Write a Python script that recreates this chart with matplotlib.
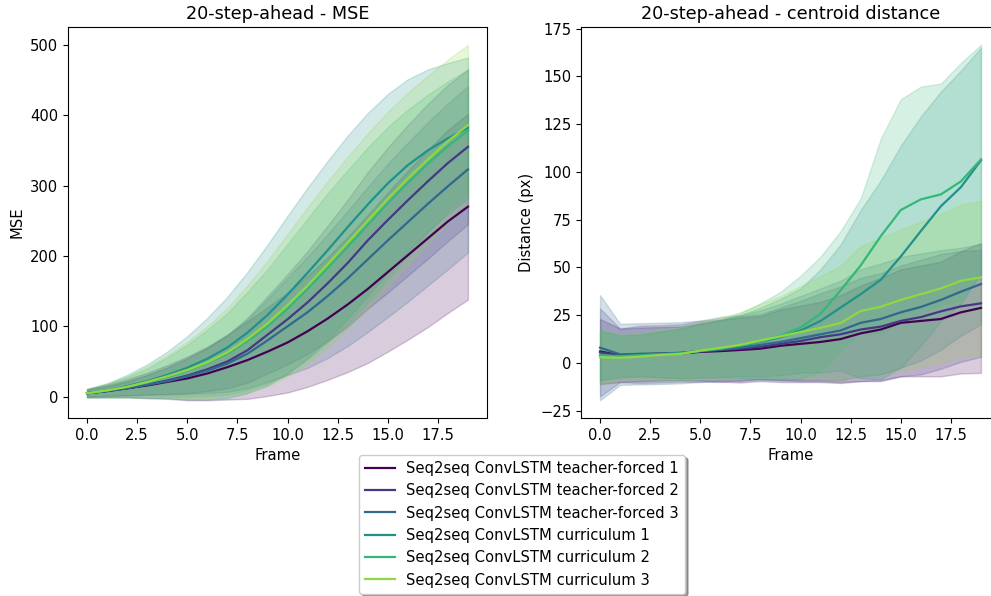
import numpy as np
import matplotlib
matplotlib.use("Agg")
import matplotlib.pyplot as plt

plt.rcParams["font.size"] = 10.6
plt.rcParams["lines.linewidth"] = 1.6

frames = np.arange(20)
labels = ["Seq2seq ConvLSTM teacher-forced 1", "Seq2seq ConvLSTM teacher-forced 2",
          "Seq2seq ConvLSTM teacher-forced 3", "Seq2seq ConvLSTM curriculum 1",
          "Seq2seq ConvLSTM curriculum 2", "Seq2seq ConvLSTM curriculum 3"]

# MSE per frame (mean, std)
mse_tf1 = [5, 8, 12, 16, 21, 26, 33, 42, 52, 64, 77, 93, 111, 131, 153, 177, 201, 225, 249, 270]
mse_tf2 = [5, 8, 12, 17, 23, 30, 39, 50, 66, 88, 110, 134, 161, 190, 222, 251, 279, 306, 332, 355]
mse_tf3 = [5, 8, 12, 17, 22, 29, 37, 47, 61, 80, 100, 120, 143, 168, 195, 222, 248, 274, 299, 323]
mse_c1 = [5, 9, 15, 22, 31, 41, 54, 70, 91, 116, 145, 176, 208, 241, 273, 303, 329, 350, 367, 382]
mse_c2 = [5, 9, 14, 20, 28, 37, 48, 61, 79, 100, 125, 153, 183, 213, 244, 275, 304, 331, 356, 378]
mse_c3 = [5, 9, 14, 21, 29, 38, 49, 63, 82, 104, 130, 158, 188, 219, 250, 281, 310, 337, 363, 386]

mse_std_tf1 = [6, 9, 13, 18, 24, 31, 38, 46, 55, 63, 71, 79, 87, 96, 105, 113, 120, 126, 130, 132]
mse_std_tf2 = [5, 7, 10, 14, 19, 25, 31, 38, 46, 55, 64, 73, 82, 90, 97, 103, 107, 110, 111, 110]
mse_std_tf3 = [5, 7, 10, 14, 19, 25, 32, 40, 49, 59, 69, 79, 88, 96, 103, 109, 113, 116, 118, 118]
mse_std_c1 = [6, 10, 16, 24, 33, 45, 58, 72, 86, 100, 112, 121, 127, 130, 130, 127, 122, 115, 107, 100]
mse_std_c2 = [6, 9, 14, 20, 28, 37, 47, 58, 70, 81, 92, 100, 106, 109, 110, 108, 104, 98, 92, 87]
mse_std_c3 = [6, 10, 15, 22, 30, 40, 51, 63, 76, 89, 101, 111, 118, 122, 124, 124, 122, 119, 116, 114]

# centroid distance per frame (mean, std)
dist_tf1 = [6, 4, 4.5, 4.8, 5, 5.8, 6.2, 6.8, 7.5, 9, 10, 11, 12.5, 15.5, 17.5, 21, 22, 23, 26.5, 28.8]
dist_tf2 = [5.5, 4, 4.5, 4.8, 5.2, 6, 6.8, 7.5, 8.5, 10, 11.5, 13.5, 15, 17.5, 19, 22, 24, 27, 29.6, 31.2]
dist_tf3 = [8, 4.5, 4.8, 5, 5.3, 6.2, 7, 8, 9.5, 11, 13, 15, 17, 21, 23, 26.5, 29.3, 33, 37.3, 41.3]
dist_c1 = [4, 3.5, 4, 4.5, 5, 6.3, 7.5, 9, 11, 13.5, 17, 22, 29, 36, 43.5, 55.7, 69, 82, 92, 106]
dist_c2 = [4, 3.5, 4, 4.5, 5, 6.3, 7.5, 9.2, 11.2, 14.2, 18.6, 25.7, 38, 51, 66.3, 80, 85.6, 88.2, 95, 106.5]
dist_c3 = [3, 2.7, 3.3, 4.2, 4.7, 6.5, 7.9, 9.5, 11.8, 13.9, 16.2, 18.4, 20.9, 27.2, 29.4, 33, 36, 39, 43, 44.8]

dist_std_tf1 = [17, 14, 14, 14, 14, 15, 16, 17, 17, 19, 20, 21, 23, 25, 27, 28, 29, 30, 32, 34]
dist_std_tf2 = [23, 14, 15, 15, 15, 16, 16, 17, 17, 19, 21, 23, 25, 27, 28, 29, 30, 30, 29, 28]
dist_std_tf3 = [27.5, 16, 16, 16, 16, 16, 17, 17, 18, 20, 22, 24, 26, 28, 29, 29, 28, 26, 23, 21]
dist_std_c1 = [13, 11, 11, 12, 13, 14, 15, 16, 18, 20, 22, 27, 33, 44, 52, 58, 60, 60, 61, 59]
dist_std_c2 = [13, 11, 11, 12, 13, 14, 15, 17, 20, 23, 27, 30, 31, 35, 51, 58, 59, 58, 62, 60]
dist_std_c3 = [14, 12, 12, 13, 14, 15, 16, 17, 19, 21, 24, 27, 30, 34, 36, 37, 38, 39, 40, 40]

mse = [mse_tf1, mse_tf2, mse_tf3, mse_c1, mse_c2, mse_c3]
mse_std = [mse_std_tf1, mse_std_tf2, mse_std_tf3, mse_std_c1, mse_std_c2, mse_std_c3]
dist = [dist_tf1, dist_tf2, dist_tf3, dist_c1, dist_c2, dist_c3]
dist_std = [dist_std_tf1, dist_std_tf2, dist_std_tf3, dist_std_c1, dist_std_c2, dist_std_c3]

colors = plt.cm.viridis(np.arange(6) / 6)

fig = plt.figure(figsize=(9.91, 5.96), dpi=100)
ax1 = fig.add_axes([68 / 991, 178 / 596, 419 / 991, 391 / 596])
ax2 = fig.add_axes([581 / 991, 178 / 596, 419 / 991, 391 / 596])

for i in range(6):
    m = np.array(mse[i])
    s = np.array(mse_std[i])
    ax1.plot(frames, m, color=colors[i], label=labels[i])
    ax1.fill_between(frames, m - s, m + s, color=colors[i], alpha=0.2)

    d = np.array(dist[i])
    s = np.array(dist_std[i])
    ax2.plot(frames, d, color=colors[i], label=labels[i])
    ax2.fill_between(frames, d - s, d + s, color=colors[i], alpha=0.2)

ax1.set_title("20-step-ahead - MSE")
ax1.set_xlabel("Frame")
ax1.set_ylabel("MSE")

ax2.set_title("20-step-ahead - centroid distance")
ax2.set_xlabel("Frame")
ax2.set_ylabel("Distance (px)")

handles, labs = ax1.get_legend_handles_labels()
fig.legend(handles, labs, loc="upper center", bbox_to_anchor=(0.527, 0.249), shadow=True)

fig.savefig("out.png", dpi=100)
